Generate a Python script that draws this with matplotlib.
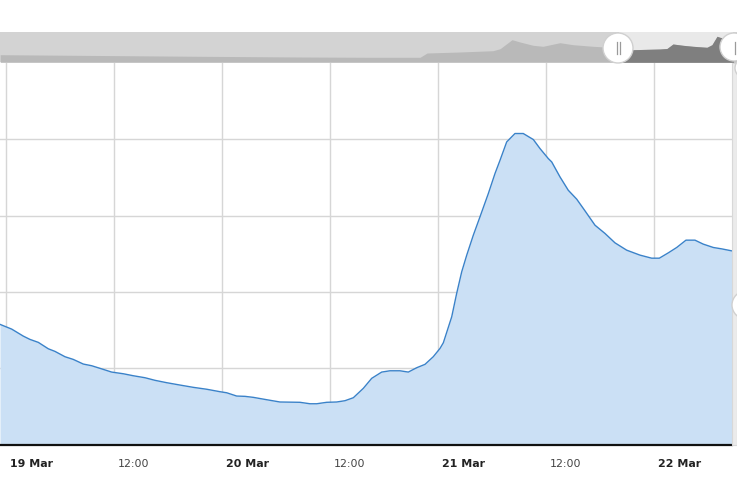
import matplotlib
matplotlib.use("Agg")
import matplotlib.pyplot as plt
from matplotlib.patches import Rectangle, Circle
from matplotlib.transforms import IdentityTransform, ScaledTranslation
from matplotlib.lines import Line2D

# ---- data (hours since 19 Mar 00:00) ----
hours = [-0.70, 0.60, 1.89, 2.63, 3.56, 4.67, 5.41, 6.52, 7.44, 8.56, 9.49, 10.41,
         11.71, 13.00, 14.11, 15.41, 16.52, 17.82, 19.30, 20.78, 22.27, 23.74, 24.49,
         25.60, 26.52, 27.44, 28.93, 30.41, 32.63, 33.74, 34.49, 35.60, 36.71, 37.63,
         38.56, 39.67, 40.60, 41.71, 42.63, 43.74, 44.67, 45.60, 46.52, 47.44, 48.19,
         48.56, 49.49, 50.04, 50.60, 51.16, 51.89, 52.63, 53.56, 54.30, 54.86, 55.60,
         56.52, 57.44, 58.56, 59.30, 60.22, 60.60, 61.52, 62.44, 63.38, 64.30, 65.41,
         66.52, 67.63, 68.93, 70.41, 71.71, 72.56, 73.56, 74.49, 75.52, 76.52, 77.44,
         78.56, 79.49, 80.60]
values = [1.575, 1.513, 1.421, 1.378, 1.339, 1.255, 1.221, 1.151, 1.116, 1.055, 1.033, 0.999,
          0.950, 0.928, 0.902, 0.876, 0.842, 0.811, 0.780, 0.750, 0.725, 0.693, 0.679,
          0.636, 0.632, 0.619, 0.588, 0.558, 0.554, 0.535, 0.535, 0.554, 0.558, 0.575,
          0.614, 0.737, 0.868, 0.950, 0.967, 0.967, 0.950, 1.007, 1.051, 1.151, 1.260,
          1.334, 1.674, 1.980, 2.263, 2.482, 2.743, 2.983, 3.289, 3.551, 3.725, 3.965,
          4.075, 4.075, 3.996, 3.878, 3.747, 3.703, 3.507, 3.332, 3.215, 3.062, 2.874,
          2.766, 2.643, 2.547, 2.482, 2.442, 2.442, 2.512, 2.582, 2.678, 2.678, 2.626,
          2.582, 2.564, 2.538]

# navigator series (full history, same hour units)
nav_hours = [-442.0, -370.8, -299.4, -228.2, -178.2, -142.6, -137.6, -114.1, -90.5, -85.5,
             -77.0, -71.3, -62.0, -54.9, -42.8, -33.5, -19.2, -10.7, 9.3, 28.5, 33.5,
             37.8, 44.9, 52.1, 62.0, 65.6, 69.2, 71.3, 80.6, 83.5]
nav_values = [7.6, 6.8, 6.0, 5.3, 5.0, 5.0, 9.3, 10.3, 11.6, 13.6,
              22.6, 20.3, 17.0, 16.0, 19.6, 17.6, 16.0, 15.3, 12.6, 13.3, 13.8,
              18.3, 17.0, 16.0, 15.0, 17.6, 26.0, 25.0, 22.3, 22.0]

tick_hours = [0, 12, 24, 36, 48, 60, 72]
tick_labels = ["19 Mar", "12:00", "20 Mar", "12:00", "21 Mar", "12:00", "22 Mar"]
y_grid = [1, 2, 3, 4]

# ---- layout ----
W, H = 737, 480
fig = plt.figure(figsize=(W / 100, H / 100), dpi=100)
fig.patch.set_facecolor("white")


def px_axes(x0, y0, x1, y1):
    return fig.add_axes([x0 / W, (H - y1) / H, (x1 - x0) / W, (y1 - y0) / H])


# main plot
P_L, P_R, P_T, P_B = 0, 731.7, 62.9, 444.6
ax = px_axes(P_L, P_T, P_R, P_B)
ax.set_xlim(-0.70, 80.6)
ax.set_ylim(0, 5)
ax.set_facecolor("white")
for s in ["top", "left", "right"]:
    ax.spines[s].set_visible(False)
ax.spines["bottom"].set_color("#111111")
ax.spines["bottom"].set_linewidth(1.6)
ax.set_yticks(y_grid)
ax.set_yticklabels([])
ax.tick_params(axis="y", length=0)
ax.set_xticks(tick_hours)
ax.set_xticklabels(tick_labels)
ax.tick_params(axis="x", length=0, pad=10.5)
ax.grid(True, color="#d6d6d6", linewidth=1)
ax.set_axisbelow(True)
for lab in ax.get_xticklabels():
    lab.set_ha("left")
    lab.set_fontsize(7.9)
    if "Mar" in lab.get_text():
        lab.set_fontweight("bold")
        lab.set_color("#222222")
    else:
        lab.set_color("#444444")
    lab.set_transform(lab.get_transform() + ScaledTranslation(3.5 / 100, 0, fig.dpi_scale_trans))

ax.fill_between(hours, values, 0, color="#cbe0f5", linewidth=0, zorder=2)
ax.plot(hours, values, color="#3a82c9", linewidth=1.0, zorder=3)

# navigator
N_T, N_B = 32.3, 62.3
nav = px_axes(0, N_T, W, N_B)
h_per_px = (80.6 - (-0.70)) / (733 - 619)
nav_x0 = -0.70 - 619 * h_per_px
nav_x1 = -0.70 + (W - 619) * h_per_px
nav.set_xlim(nav_x0, nav_x1)
nav.set_ylim(0, 30)
nav.set_facecolor("#d3d3d3")
nav.set_xticks([])
nav.set_yticks([])
for s in nav.spines.values():
    s.set_visible(False)
sel0, sel1 = -0.70, 80.6
nav.axvspan(sel0, sel1, color="#e9e9e9", linewidth=0, zorder=1)
nav.fill_between(nav_hours, nav_values, 0, color="#b9b9b9", linewidth=0, zorder=2)
dark = nav.fill_between(nav_hours, nav_values, 0, color="#7f7f7f", linewidth=0, zorder=3)
clip = Rectangle((sel0, 0), sel1 - sel0, 30, transform=nav.transData)
dark.set_clip_path(clip)

# right grey strip
fig.add_artist(Rectangle((P_R, H - P_B), W - P_R, P_B - P_T, transform=IdentityTransform(),
                         facecolor="#ebebeb", edgecolor="#d8d8d8", linewidth=0.8, zorder=5))


def handle(cx, cy, r):
    fig.add_artist(Circle((cx, H - cy), r, transform=IdentityTransform(),
                          facecolor="white", edgecolor="#d0d0d0", linewidth=1.0, zorder=6))


handle(745, 68, 10)
handle(746, 305, 14)
handle(618, 48, 15)
handle(734, 47, 14)
for xx in (616.5, 620):
    fig.add_artist(Line2D([xx, xx], [H - 42, H - 54], transform=IdentityTransform(),
                          color="#9a9a9a", linewidth=0.9, zorder=7))
fig.add_artist(Line2D([735, 735], [H - 42, H - 54], transform=IdentityTransform(),
                      color="#9a9a9a", linewidth=0.9, zorder=7))

fig.savefig("out.png", dpi=100, facecolor="white")
